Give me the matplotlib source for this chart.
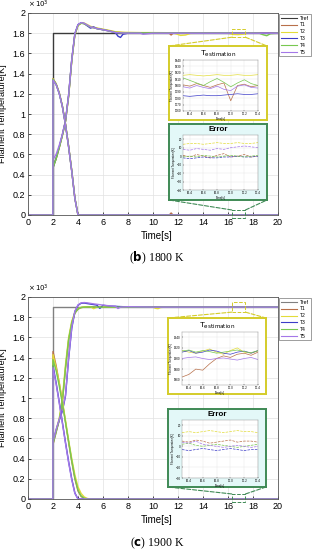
import numpy as np
import matplotlib
matplotlib.use('Agg')
import matplotlib.pyplot as plt
from matplotlib.patches import Rectangle, ConnectionPatch
from matplotlib.ticker import FuncFormatter

plt.rcParams['font.family'] = ['Liberation Sans', 'DejaVu Sans']

# ---------------- data ----------------
labels = ['Tref', 'T1', 'T2', 'T3', 'T4', 'T5']
colors = ['#3a3a3a', '#b8704a', '#e2dc3a', '#3c3cc8', '#78c850', '#a478e8']

# time grids
t_rise = [0, 1.99, 2.0, 2.25, 2.5, 2.75, 3.0, 3.25, 3.5, 3.75, 4.0, 4.25, 4.5,
          4.75, 5.0, 5.25, 5.5, 5.75, 6.0, 6.25, 6.5]
t_err = [0, 1.99, 2.0, 2.25, 2.5, 2.75, 3.0, 3.25, 3.5, 3.75, 4.0, 4.25, 4.5,
         4.75, 5.0, 11.3, 11.45, 11.6, 20]
t_ref = [0, 2, 2, 20]

# (b) 1800 K
b_ref = [0, 0, 1800, 1800]
b_rise = [
    [0, 0, 470, 560, 670, 790, 930, 1180, 1530, 1790, 1880, 1900, 1895, 1878, 1862, 1855, 1848, 1842, 1836, 1830, 1824],
    [0, 0, 470, 555, 665, 785, 925, 1170, 1520, 1780, 1875, 1898, 1900, 1885, 1868, 1860, 1852, 1846, 1840, 1834, 1828],
    [0, 0, 470, 560, 672, 795, 935, 1190, 1540, 1795, 1885, 1903, 1895, 1872, 1850, 1862, 1845, 1840, 1834, 1828, 1822],
    [0, 0, 468, 558, 668, 788, 928, 1178, 1528, 1788, 1878, 1898, 1894, 1876, 1860, 1853, 1846, 1840, 1834, 1828, 1822],
    [0, 0, 550, 600, 690, 800, 935, 1185, 1535, 1795, 1885, 1905, 1898, 1880, 1862, 1855, 1847, 1840, 1834, 1828, 1822],
]
b_t_steady = [7.0, 7.2, 7.4, 7.6, 8.0, 9.0, 9.2, 10.0, 11.0, 11.3, 11.45, 11.6, 11.8, 12.2, 12.6,
              13.0, 14.0, 15.0, 16.0, 16.4, 16.8, 17.2, 17.6, 18.0, 18.5, 18.8, 19.1, 19.4, 20.0]
b_steady = [
    [1812, 1810, 1808, 1806, 1804, 1802, 1802, 1801, 1800, 1800, 1782, 1800, 1800, 1800, 1800,
     1800, 1800, 1800, 1800, 1800, 1801, 1800, 1800, 1800, 1800, 1800, 1800, 1800, 1800],
    [1814, 1812, 1810, 1809, 1808, 1806, 1806, 1806, 1805, 1804, 1804, 1803, 1796, 1778, 1782,
     1798, 1800, 1800, 1799, 1788, 1786, 1790, 1800, 1801, 1800, 1800, 1800, 1800, 1800],
    [1805, 1770, 1758, 1790, 1800, 1800, 1800, 1800, 1800, 1800, 1800, 1800, 1800, 1800, 1800,
     1800, 1800, 1800, 1800, 1800, 1800, 1800, 1800, 1800, 1800, 1800, 1800, 1800, 1800],
    [1808, 1806, 1805, 1804, 1803, 1802, 1802, 1802, 1801, 1801, 1801, 1801, 1801, 1801, 1801,
     1801, 1801, 1801, 1801, 1801, 1801, 1801, 1801, 1800, 1800, 1785, 1775, 1795, 1800],
    [1806, 1804, 1803, 1802, 1801, 1800, 1790, 1800, 1800, 1800, 1800, 1800, 1800, 1800, 1800,
     1800, 1800, 1800, 1800, 1800, 1800, 1800, 1800, 1800, 1800, 1800, 1800, 1800, 1800],
]
b_err = [
    [0, 0, 1350, 1300, 1210, 1080, 900, 680, 440, 170, 0, 0, 0, 0, 0, 0, 20, 0, 0],
    [0, 0, 1348, 1298, 1208, 1078, 898, 678, 438, 168, 0, 0, 0, 0, 0, 0, 0, 0, 0],
    [0, 0, 1340, 1292, 1204, 1074, 894, 674, 434, 164, 0, 0, 0, 0, 0, 0, 0, 0, 0],
    [0, 0, 1344, 1295, 1206, 1076, 896, 676, 436, 166, 0, 0, 0, 0, 0, 0, 0, 0, 0],
    [0, 0, 1336, 1290, 1202, 1072, 892, 672, 432, 162, 0, 0, 0, 0, 0, 0, 0, 0, 0],
]

# (c) 1900 K
c_ref = [0, 0, 1900, 1900]
c_rise = [
    [0, 0, 540, 660, 780, 960, 1290, 1570, 1740, 1840, 1880, 1895, 1900, 1902, 1902, 1901, 1900, 1900, 1900, 1900, 1900],
    [0, 0, 560, 680, 800, 1000, 1330, 1600, 1760, 1850, 1885, 1897, 1902, 1904, 1904, 1884, 1898, 1904, 1903, 1902, 1901],
    [0, 0, 560, 680, 780, 870, 1020, 1390, 1690, 1855, 1918, 1938, 1940, 1935, 1930, 1925, 1920, 1888, 1918, 1914, 1910],
    [0, 0, 545, 665, 785, 970, 1300, 1580, 1745, 1842, 1882, 1896, 1900, 1902, 1902, 1901, 1900, 1900, 1900, 1900, 1900],
    [0, 0, 570, 690, 790, 880, 1030, 1400, 1700, 1860, 1922, 1942, 1945, 1942, 1937, 1932, 1928, 1924, 1920, 1916, 1913],
]
c_t_steady = [7.0, 7.2, 7.4, 8.0, 9.0, 10.0, 10.2, 10.4, 10.6, 11.0, 12.0, 14.0, 16.0, 18.0, 20.0]
c_steady = [
    [1900, 1900, 1900, 1900, 1900, 1900, 1900, 1900, 1900, 1900, 1900, 1900, 1900, 1900, 1900],
    [1902, 1902, 1902, 1902, 1901, 1900, 1888, 1884, 1896, 1900, 1900, 1900, 1900, 1900, 1900],
    [1908, 1906, 1905, 1902, 1900, 1900, 1900, 1900, 1900, 1900, 1900, 1900, 1900, 1900, 1900],
    [1900, 1900, 1900, 1900, 1900, 1900, 1900, 1900, 1900, 1900, 1900, 1900, 1900, 1900, 1900],
    [1908, 1886, 1900, 1904, 1902, 1900, 1900, 1900, 1900, 1900, 1900, 1900, 1900, 1900, 1900],
]
c_err = [
    [0, 0, 1460, 1320, 1150, 960, 760, 560, 370, 200, 80, 25, 5, 0, 0, 0, 0, 0, 0],
    [0, 0, 1430, 1300, 1150, 970, 780, 580, 400, 240, 120, 55, 20, 5, 0, 0, 0, 0, 0],
    [0, 0, 1320, 1150, 960, 760, 560, 370, 200, 60, 0, 0, 0, 0, 0, 0, 0, 0, 0],
    [0, 0, 1380, 1270, 1120, 950, 760, 570, 380, 210, 90, 30, 8, 0, 0, 0, 0, 0, 0],
    [0, 0, 1300, 1140, 950, 750, 550, 360, 190, 55, 0, 0, 0, 0, 0, 0, 0, 0, 0],
]

# zoomed insets, t = 16.3 ... 17.4
t_ins = [16.3, 16.4, 16.5, 16.6, 16.7, 16.8, 16.9, 17.0, 17.1, 17.2, 17.3, 17.4]
b_est_ins = [
    [1801, 1799, 1803, 1800, 1797, 1801, 1804, 1776, 1800, 1802, 1798, 1800],
    [1816, 1817, 1816, 1815, 1816, 1817, 1816, 1816, 1817, 1816, 1816, 1817],
    [1784, 1783, 1784, 1785, 1784, 1784, 1785, 1786, 1787, 1786, 1786, 1787],
    [1812, 1808, 1804, 1800, 1806, 1811, 1805, 1798, 1804, 1809, 1803, 1800],
    [1798, 1796, 1800, 1797, 1795, 1799, 1794, 1792, 1799, 1801, 1797, 1796],
]
b_err_ins = [
    [1, -1, 2, 0, -2, 1, 3, -1, 0, 2, -1, 0],
    [14, 15, 15, 14, 15, 16, 15, 15, 16, 15, 15, 16],
    [-2, -3, -2, -1, -2, -2, -1, -1, 0, -1, -1, 0],
    [-1, 0, -1, 1, 0, -1, 0, 1, 0, -1, 0, 1],
    [8, 7, 9, 8, 7, 9, 8, 10, 11, 12, 11, 10],
]
c_est_ins = [
    [1865, 1870, 1880, 1878, 1890, 1900, 1905, 1902, 1908, 1910, 1906, 1912],
    [1915, 1912, 1910, 1914, 1918, 1912, 1908, 1915, 1920, 1912, 1910, 1914],
    [1912, 1915, 1910, 1912, 1916, 1914, 1910, 1908, 1912, 1914, 1910, 1915],
    [1914, 1916, 1912, 1915, 1913, 1910, 1912, 1914, 1916, 1913, 1911, 1915],
    [1900, 1902, 1903, 1900, 1898, 1900, 1901, 1899, 1897, 1900, 1902, 1898],
]
c_err_ins = [
    [5, 4, 6, 5, 3, 4, 5, 6, 4, 5, 5, 4],
    [13, 14, 13, 14, 15, 14, 13, 14, 15, 14, 14, 13],
    [-3, -4, -3, -2, -3, -4, -3, -2, -3, -4, -3, -3],
    [2, 3, 1, 0, 1, 2, 1, 0, -1, 0, 1, 2],
    [4, 3, 5, 2, 1, 0, -1, 0, 1, 0, -1, 0],
]

zoom_t = (16.3, 17.4)

W, H = 314, 550
fig = plt.figure(figsize=(W / 100, H / 100), dpi=100)


def px(x0, y0, x1, y1):
    return [x0 / W, 1 - y1 / H, (x1 - x0) / W, (y1 - y0) / H]


def inset(box_rect, in_rect, title, edge, face, tt, series, ylim, dashed, title_bold):
    box = fig.add_axes(px(*box_rect))
    box.set_xticks([]); box.set_yticks([])
    box.set_facecolor(face)
    for s in box.spines.values():
        s.set_color(edge); s.set_linewidth(1.4)
    box.text(0.5, 0.97, title, transform=box.transAxes, ha='center', va='top',
             fontsize=5.8, fontweight='bold' if title_bold else 'normal')
    a = fig.add_axes(px(*in_rect))
    for i, v in enumerate(series):
        a.plot(tt, v, color=colors[i + 1], lw=0.5, ls='--' if dashed else '-')
    a.set_xlim(tt[0], tt[-1]); a.set_ylim(*ylim)
    a.grid(True, color='#e4e4e4', lw=0.3)
    a.tick_params(labelsize=2.2, length=1, width=0.3, direction='in', pad=1)
    for s in a.spines.values():
        s.set_linewidth(0.3); s.set_color('#888888')
    a.set_xlabel('Time[s]', fontsize=2.2, labelpad=0.5)
    a.set_ylabel('Filament Temperature[K]', fontsize=2, labelpad=0.5)
    return box


def panel(rect, tref, ref_col, rise, t_st, steady, err, ins, caption, cap_y, lab_y):
    ax = fig.add_axes(px(*rect))
    ax.plot(t_ref, tref, color=ref_col, lw=1.0, label=labels[0])
    for i in range(5):
        tt = t_rise + t_st
        vv = rise[i] + steady[i]
        ax.plot(tt, vv, color=colors[i + 1], lw=1.0, label=labels[i + 1])
    for i in range(5):
        ax.plot(t_err, err[i], color=colors[i + 1], lw=1.0)
    ax.set_xlim(0, 20); ax.set_ylim(0, 2000)
    ax.set_xticks(np.arange(0, 21, 2))
    ax.set_yticks(np.arange(0, 2001, 200))
    ax.yaxis.set_major_formatter(FuncFormatter(lambda v, p: '%g' % round(v / 1000, 1)))
    ax.text(0.0, 1.015, r'$\times\,10^3$', transform=ax.transAxes, fontsize=5, va='bottom', ha='left')
    ax.tick_params(labelsize=6.5, length=2, width=0.5, direction='in', pad=2)
    ax.grid(True, color='#e2e2e2', lw=0.5)
    for s in ax.spines.values():
        s.set_color('#555555'); s.set_linewidth(0.6)
    ax.set_ylabel('Filament Temperature[K]', fontsize=6.5)
    ax.yaxis.set_label_coords(-0.082, 0.5)
    fig.text(0.5, lab_y, 'Time[s]', fontsize=7, ha='center', va='center')
    leg = ax.legend(loc='upper left', bbox_to_anchor=(1.0, 1.0), fontsize=3.6, frameon=True,
                    handlelength=3.2, borderpad=0.35, labelspacing=0.35, handletextpad=0.6,
                    fancybox=False, borderaxespad=0.2)
    leg.get_frame().set_edgecolor('#555555'); leg.get_frame().set_linewidth(0.5)
    for ln in leg.get_lines():
        ln.set_linewidth(0.8)

    (est_box_r, est_in_r, est_data, est_ylim, zy_est,
     err_box_r, err_in_r, err_data, err_ylim, zy_err) = ins
    yb = inset(est_box_r, est_in_r, r'T$_{\mathrm{estimation}}$', '#d4cc2a', '#ffffff',
               t_ins, est_data, est_ylim, False, False)
    gb = inset(err_box_r, err_in_r, 'Error', '#3f8a55', '#e3f8f8',
               t_ins, err_data, err_ylim, True, True)

    # zoom rectangles and connectors
    for (y0, y1), box, col, top in [(zy_est, yb, '#d4cc2a', False), (zy_err, gb, '#3f8a55', True)]:
        ax.add_patch(Rectangle((zoom_t[0], y0), zoom_t[1] - zoom_t[0], y1 - y0, fill=False,
                               ec=col, ls='--', lw=0.7, clip_on=False, zorder=5))
        ya = y1 if top else y0
        yb_ = 0 if top else 1
        for xa, xb in [(zoom_t[0], 0), (zoom_t[1], 1)]:
            cp = ConnectionPatch(xyA=(xa, ya), coordsA=ax.transData, xyB=(xb, yb_),
                                 coordsB=box.transAxes, color=col, ls='--', lw=0.8)
            fig.add_artist(cp)

    fig.text(0.5, cap_y, caption, fontsize=8.5, ha='center', va='center',
             family=['Liberation Serif', 'DejaVu Serif'])
    return ax


panel((28, 13, 278, 215), b_ref, '#3a3a3a', b_rise, b_t_steady, b_steady, b_err,
      ((169, 46, 267, 120), (183, 60, 258, 111), b_est_ins, (1760, 1840), (1760, 1840),
       (169, 124, 267, 200), (183, 135, 258, 190), b_err_ins, (-40, 25), (-30, 50)),
      r'($\mathbf{b}$) 1800 K', 1 - 258 / H, 1 - 236 / H)

panel((28, 297, 278, 499), c_ref, '#808080', c_rise, c_t_steady, c_steady, c_err,
      ((168, 318, 266, 394), (182, 332, 258, 385), c_est_ins, (1850, 1950), (1850, 1950),
       (168, 409, 266, 487), (182, 420, 258, 478), c_err_ins, (-30, 25), (-30, 50)),
      r'($\mathbf{c}$) 1900 K', 1 - 543 / H, 1 - 520 / H)

fig.savefig('out.png', dpi=100)
